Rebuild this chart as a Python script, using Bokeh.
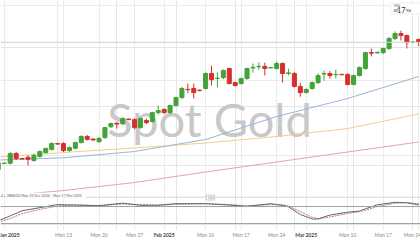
from bokeh.plotting import figure
from bokeh.models import Range1d, FixedTicker, Span, Label, BoxAnnotation, ColumnDataSource, Grid
from bokeh.embed import file_html
from bokeh.resources import INLINE

# ---------------- data ----------------
days = ["Dec 31", "Jan 1", "Jan 2", "Jan 3", "Jan 5", "Jan 6", "Jan 7", "Jan 8", "Jan 9", "Jan 10",
        "Jan 12", "Jan 13", "Jan 14", "Jan 15", "Jan 16", "Jan 17", "Jan 19", "Jan 20", "Jan 21", "Jan 22",
        "Jan 23", "Jan 24", "Jan 26", "Jan 27", "Jan 28", "Jan 29", "Jan 30", "Jan 31", "Feb 2", "Feb 3",
        "Feb 4", "Feb 5", "Feb 6", "Feb 7", "Feb 9", "Feb 10", "Feb 11", "Feb 12", "Feb 13", "Feb 14",
        "Feb 16", "Feb 17", "Feb 18", "Feb 19", "Feb 20", "Feb 21", "Feb 23", "Feb 24", "Feb 25", "Feb 26",
        "Feb 27", "Feb 28", "Mar 2", "Mar 3", "Mar 4", "Mar 5", "Mar 6", "Mar 7", "Mar 9", "Mar 10",
        "Mar 11", "Mar 12", "Mar 13", "Mar 14", "Mar 16", "Mar 17", "Mar 18", "Mar 19", "Mar 20", "Mar 21",
        "Mar 23", "Mar 24"]
opens = [2585, 2606, 2607, 2640, 2623, 2627, 2616, 2630, 2643, 2654,
         2674, 2674, 2650, 2658, 2677, 2698, 2689, 2680, 2694, 2731,
         2743, 2741, 2757, 2755, 2728, 2752, 2749, 2779, 2790, 2779,
         2803, 2830, 2858, 2861, 2855, 2861, 2912, 2895, 2898, 2929,
         2881, 2878, 2895, 2931, 2935, 2936, 2931, 2929, 2946, 2912,
         2912, 2868, 2847, 2861, 2881, 2910, 2912, 2908, 2909, 2909,
         2875, 2905, 2929, 2983, 2982, 2983, 2997, 3031, 3048, 3041,
         3018, 3028]
highs = [2615, 2609, 2645, 2646, 2625, 2633, 2640, 2650, 2660, 2678,
         2676, 2678, 2664, 2680, 2702, 2703, 2691, 2697, 2731, 2745,
         2746, 2763, 2759, 2760, 2762, 2758, 2782, 2803, 2794, 2806,
         2833, 2866, 2878, 2878, 2858, 2916, 2939, 2915, 2926, 2932,
         2884, 2898, 2932, 2946, 2950, 2949, 2934, 2953, 2950, 2928,
         2917, 2880, 2861, 2885, 2912, 2922, 2920, 2925, 2911, 2912,
         2908, 2936, 2986, 2997, 2986, 3000, 3036, 3055, 3058, 3044,
         3021, 3030]
lows = [2580, 2604, 2603, 2618, 2620, 2599, 2612, 2626, 2640, 2650,
        2670, 2645, 2646, 2654, 2674, 2684, 2684, 2676, 2690, 2727,
        2725, 2737, 2754, 2722, 2725, 2740, 2745, 2772, 2775, 2774,
        2799, 2826, 2845, 2827, 2851, 2857, 2871, 2865, 2893, 2874,
        2868, 2874, 2891, 2915, 2925, 2905, 2929, 2925, 2881, 2905,
        2864, 2833, 2845, 2857, 2876, 2888, 2895, 2895, 2906, 2871,
        2872, 2902, 2925, 2970, 2980, 2978, 2993, 3025, 3024, 2997,
        3015, 3005]
closes = [2609, 2607, 2640, 2623, 2621, 2620, 2633, 2647, 2657, 2674,
          2672, 2650, 2660, 2677, 2698, 2688, 2686, 2691, 2728, 2742,
          2740, 2759, 2755, 2728, 2759, 2745, 2779, 2786, 2779, 2803,
          2830, 2861, 2857, 2847, 2854, 2912, 2891, 2896, 2922, 2878,
          2871, 2895, 2929, 2933, 2936, 2929, 2932, 2946, 2912, 2914,
          2868, 2847, 2858, 2881, 2905, 2912, 2905, 2909, 2908, 2875,
          2905, 2932, 2983, 2981, 2984, 2997, 3031, 3048, 3041, 3017,
          3019, 3017.94]

# moving averages read at weekly candles
ma_idx = [0, 11, 23, 35, 47, 59, 71]
ma_blue = [2617.9, 2625.4, 2646.8, 2687.6, 2765.8, 2827.0, 2901.8]
ma_yellow = [2628.0, 2643.4, 2658.7, 2675.7, 2697.8, 2725.0, 2774.3]
ma_red = [2493.8, 2514.2, 2541.4, 2577.1, 2611.1, 2645.1, 2679.1]

# oscillator (stochastic)
osc_idx = [0, 2, 4, 7, 10, 13, 17, 21, 24, 27, 30, 35, 39, 42, 46, 48, 49, 51, 53, 54, 56, 59, 61, 62, 64, 67, 69, 71]
stoch_k = [30, 47, 65, 76, 87, 85, 83, 92, 84, 85, 90, 90, 85, 81, 90, 84, 79, 52, 36, 36, 50, 60, 64, 72, 86, 95, 93, 86]
stoch_d = [25, 38, 55, 70, 82, 86, 83, 89, 87, 84, 88, 90, 87, 82, 87, 86, 82, 62, 42, 37, 43, 56, 62, 67, 80, 92, 94, 90]
osc_levels = [80, 20]

current_price = 3017.94
week_ticks = [11, 17, 23, 35, 41, 47, 59, 65, 71]
week_labels = ["Mon 13", "Mon 20", "Mon 27", "Mon 10", "Mon 17", "Mon 24", "Mon 10", "Mon 17", "Mon 24"]
month_ticks = [1, 28, 52]
month_labels = ["Jan 2025", "Feb 2025", "Mar 2025"]
legend_text = "4   L 2888.00   Mon 23 Dec 2024 - Mon 17 Mar 2025"
title_text = "Spot Gold"

# ---------------- layout constants ----------------
W, H = 420, 240
PX_PER_DAY = 5.92
X0_PX = -2.1            # pixel of candle index 0
PRICE_TOP = 3160.2      # price at pixel y=0
PRICE_PER_PX = 3.4
OSC_ZERO_PX = 228.7
OSC_PX_PER_UNIT = 0.2833
LABEL_Y_PX = 234.3


def px_x(px):
    return (px - X0_PX) / PX_PER_DAY


def px_price(py):
    return PRICE_TOP - PRICE_PER_PX * py


def px_osc(py):
    return (OSC_ZERO_PX - py) / OSC_PX_PER_UNIT


GREEN = "#43a33a"
RED = "#d6302c"
FONT = "Lato"

p = figure(width=W, height=H, output_backend="svg", toolbar_location=None, title=None,
           x_range=Range1d(px_x(0), px_x(W)),
           y_range=Range1d(px_price(H), px_price(0)),
           x_axis_location=None, y_axis_location=None,
           min_border_left=0, min_border_right=0, min_border_top=0, min_border_bottom=0,
           outline_line_color=None, background_fill_color="white", border_fill_color="white")
p.extra_y_ranges = {"osc": Range1d(px_osc(H), px_osc(0))}

# grids
p.add_layout(Grid(dimension=0, ticker=FixedTicker(ticks=sorted(week_ticks + month_ticks)),
                  grid_line_color="#ebebeb"))
p.add_layout(Grid(dimension=1, ticker=FixedTicker(ticks=[px_price(5), px_price(80), px_price(155)]),
                  grid_line_color="#ebebeb"))

# watermark
p.add_layout(Label(x=px_x(209), y=px_price(118), text=title_text, text_align="center",
                   text_baseline="alphabetic", text_font=FONT, text_font_size="47px",
                   text_color="#c8c8c8", level="underlay"))

# moving averages
p.line(ma_idx, ma_red, line_color="#e6a2a8", line_width=1)
p.line(ma_idx, ma_yellow, line_color="#f1cf86", line_width=1)
p.line(ma_idx, ma_blue, line_color="#98b4d6", line_width=1)

# current price line
p.add_layout(Span(location=current_price, dimension="width", line_color="#cfcfcf", line_width=1))

# candles
xs = list(range(len(opens)))
colors = [GREEN if c >= o else RED for o, c in zip(opens, closes)]
src = ColumnDataSource(dict(x=xs, open=opens, high=highs, low=lows, close=closes,
                            top=[max(o, c) for o, c in zip(opens, closes)],
                            bottom=[min(o, c) for o, c in zip(opens, closes)], color=colors))
p.segment(x0="x", y0="low", x1="x", y1="high", line_color="color", line_width=1, source=src)
p.vbar(x="x", width=0.68, top="top", bottom="bottom", fill_color="color", line_color="color",
       line_width=1, source=src)

# oscillator panel
p.add_layout(Span(location=px_osc(196.7), dimension="width", y_range_name="osc",
                  line_color="#d6d6d6", line_width=1))
for lv in osc_levels:
    p.add_layout(Span(location=lv, dimension="width", y_range_name="osc",
                      line_color="#9aa0a8", line_width=1))
p.line(osc_idx, stoch_d, y_range_name="osc", line_color="#b87070", line_width=1, line_dash="2 1")
p.line(osc_idx, stoch_k, y_range_name="osc", line_color="#666666", line_width=1)

# legend line at bottom of main panel
p.add_layout(Label(x=px_x(0.5), y=px_osc(194.8), y_range_name="osc", text=legend_text,
                   text_baseline="middle", text_font=FONT, text_font_size="3.6px",
                   text_color="#666666", background_fill_color="white"))
p.add_layout(Label(x=px_x(210), y=px_osc(197), y_range_name="osc", text="100",
                   text_align="center", text_baseline="middle", text_font=FONT,
                   text_font_size="3.5px", text_color="#888888", background_fill_color="white",
                   border_line_color="#cccccc", padding=1))

# date axis strip (white band under the oscillator, then the date labels)
p.add_layout(BoxAnnotation(top=px_osc(229.6), bottom=px_osc(H + 2), y_range_name="osc",
                           fill_color="white", fill_alpha=1, line_color=None))
for t, l in zip(week_ticks, week_labels):
    x_lab = min(t, px_x(W - 8))
    p.add_layout(Label(x=x_lab, y=px_osc(LABEL_Y_PX), y_range_name="osc", text=l, text_align="center",
                       text_baseline="middle", text_font=FONT, text_font_size="5px",
                       text_color="#8a8a8a"))
for t, l in zip(month_ticks, month_labels):
    x_lab = max(t, px_x(9))
    p.add_layout(Label(x=x_lab, y=px_osc(LABEL_Y_PX), y_range_name="osc", text=l, text_align="center",
                       text_baseline="middle", text_font=FONT, text_font_size="5px",
                       text_font_style="bold", text_color="#444444"))

# price box top right
p.add_layout(BoxAnnotation(left=px_x(390), right=px_x(422), top=px_price(2.5), bottom=px_price(13.5),
                           fill_color="white", fill_alpha=1, line_color="#c8c8c8", line_width=1))
p.add_layout(Label(x=px_x(393.5), y=px_price(5.3), text="Mid", text_baseline="middle",
                   text_font=FONT, text_font_size="3.5px", text_color="#666666"))
p.add_layout(Label(x=px_x(392.5), y=px_price(10.3), text="30", text_baseline="middle",
                   text_font=FONT, text_font_size="4.5px", text_color="#333333"))
p.add_layout(Label(x=px_x(396.5), y=px_price(9.9), text="17", text_baseline="middle",
                   text_font=FONT, text_font_size="7.5px", text_color="#333333"))
p.add_layout(Label(x=px_x(405.5), y=px_price(10.3), text="94", text_baseline="middle",
                   text_font=FONT, text_font_size="4.5px", text_color="#333333"))

open("out.html", "w").write(file_html(p, INLINE))
